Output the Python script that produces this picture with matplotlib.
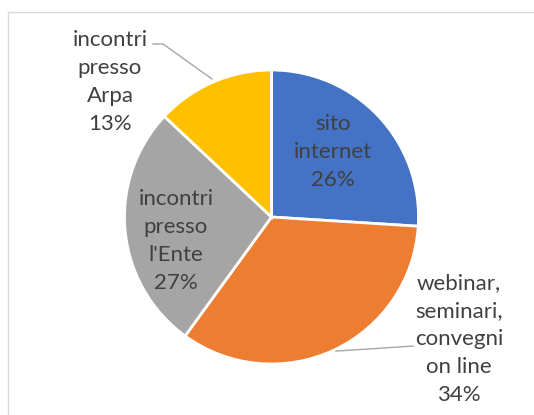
import matplotlib.pyplot as plt
from matplotlib.patches import Rectangle

# data
labels = ["sito\ninternet", "webinar,\nseminari,\nconvegni\non line",
          "incontri\npresso\nl'Ente", "incontri\npresso\nArpa"]
values = [26, 34, 27, 13]
colors = ["#4472C4", "#ED7D31", "#A5A5A5", "#FFC000"]

# label centres in pie units (radius = 1)
label_pos = [(0.418, 0.442), (1.276, -0.830), (-0.650, -0.163), (-1.099, 0.918)]

TXT = "#404040"
plt.rcParams['font.family'] = ['Lato', 'DejaVu Sans']

fig = plt.figure(figsize=(5.34, 4.15), dpi=100)
fig.patch.set_facecolor("white")

# chart area border (Excel style)
fig.patches.append(Rectangle((8 / 534, -0.1), 1.2, (415 - 12) / 415 + 0.1,
                             transform=fig.transFigure, fill=False,
                             edgecolor="#D9D9D9", linewidth=1))

ax = fig.add_axes([124.5 / 534, 51 / 415, 294 / 534, 294 / 415])
wedges, _ = ax.pie(values, colors=colors, startangle=90, counterclock=False,
                   radius=1, wedgeprops=dict(edgecolor="white", linewidth=2))
ax.set_xlim(-1, 1)
ax.set_ylim(-1, 1)
ax.set_aspect("equal")
ax.axis("off")

total = sum(values)
for lab, v, (x, y) in zip(labels, values, label_pos):
    pct = round(100 * v / total)
    ax.text(x, y, f"{lab}\n{pct}%", ha="center", va="center", fontsize=16,
            color=TXT, linespacing=1.5, clip_on=False)

# leader lines
ax.plot([-0.806, -0.738, -0.405], [1.177, 1.177, 0.939], color="#A6A6A6",
        lw=1, clip_on=False)
ax.plot([0.439, 0.963], [-0.912, -0.878], color="#A6A6A6", lw=1, clip_on=False)

fig.savefig("out.png", dpi=100)
